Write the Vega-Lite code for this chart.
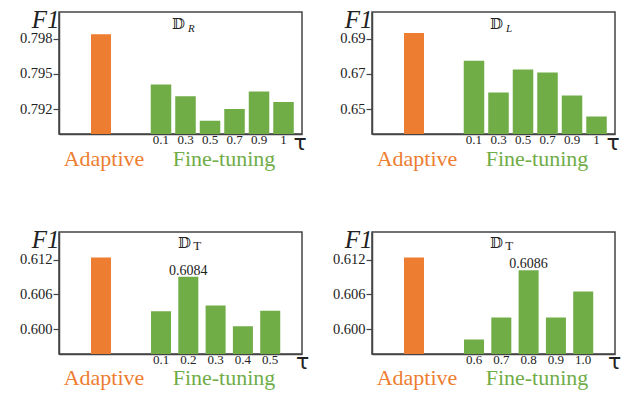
{
  "$schema": "https://vega.github.io/schema/vega-lite/v6.json",
  "padding": {"left": 18, "top": 6, "right": 5, "bottom": 2},
  "data": {"values": [
    {"panel": "R", "method": "Adaptive", "f1": 0.7984},
    {"panel": "R", "method": "Fine-tuning", "tau": "0.1", "f1": 0.7941},
    {"panel": "R", "method": "Fine-tuning", "tau": "0.3", "f1": 0.7931},
    {"panel": "R", "method": "Fine-tuning", "tau": "0.5", "f1": 0.7910},
    {"panel": "R", "method": "Fine-tuning", "tau": "0.7", "f1": 0.7920},
    {"panel": "R", "method": "Fine-tuning", "tau": "0.9", "f1": 0.7935},
    {"panel": "R", "method": "Fine-tuning", "tau": "1", "f1": 0.7926},
    {"panel": "L", "method": "Adaptive", "f1": 0.6932},
    {"panel": "L", "method": "Fine-tuning", "tau": "0.1", "f1": 0.6774},
    {"panel": "L", "method": "Fine-tuning", "tau": "0.3", "f1": 0.6594},
    {"panel": "L", "method": "Fine-tuning", "tau": "0.5", "f1": 0.6724},
    {"panel": "L", "method": "Fine-tuning", "tau": "0.7", "f1": 0.6707},
    {"panel": "L", "method": "Fine-tuning", "tau": "0.9", "f1": 0.6577},
    {"panel": "L", "method": "Fine-tuning", "tau": "1", "f1": 0.6459},
    {"panel": "T1", "method": "Adaptive", "f1": 0.6124},
    {"panel": "T1", "method": "Fine-tuning", "tau": "0.1", "f1": 0.6031},
    {"panel": "T1", "method": "Fine-tuning", "tau": "0.2", "f1": 0.6091, "note": "0.6084"},
    {"panel": "T1", "method": "Fine-tuning", "tau": "0.3", "f1": 0.6041},
    {"panel": "T1", "method": "Fine-tuning", "tau": "0.4", "f1": 0.6005},
    {"panel": "T1", "method": "Fine-tuning", "tau": "0.5", "f1": 0.6032},
    {"panel": "T2", "method": "Adaptive", "f1": 0.6124},
    {"panel": "T2", "method": "Fine-tuning", "tau": "0.6", "f1": 0.5982},
    {"panel": "T2", "method": "Fine-tuning", "tau": "0.7", "f1": 0.6020},
    {"panel": "T2", "method": "Fine-tuning", "tau": "0.8", "f1": 0.6102, "note": "0.6086"},
    {"panel": "T2", "method": "Fine-tuning", "tau": "0.9", "f1": 0.6020},
    {"panel": "T2", "method": "Fine-tuning", "tau": "1.0", "f1": 0.6065}
  ]},
  "columns": 2,
  "spacing": {"row": 98, "column": 70},
  "bounds": "flush",
  "concat": [
    {
      "width": 243, "height": 122,
      "transform": [{"filter": "datum.panel == 'R'"}],
      "title": {"text": "𝔻", "subtitle": "\u2800\u2800R", "anchor": "start", "frame": "group", "dx": 113, "offset": -26.2, "font": "DejaVu Serif", "fontSize": 15, "fontWeight": "normal", "color": "#222", "subtitleFont": "Liberation Serif", "subtitleFontStyle": "italic", "subtitleFontSize": 11, "subtitlePadding": -8.8, "subtitleColor": "#222"},
      "encoding": {"y": {"field": "f1", "type": "quantitative", "scale": {"domain": [0.78986, 0.80031], "zero": false, "nice": false}, "axis": {"values": [0.792, 0.795, 0.798], "format": ".3f", "title": "F1", "titleAngle": 0, "titleAlign": "right", "titleBaseline": "alphabetic", "titleX": 0, "titleY": 15.5, "titleFont": "Liberation Serif", "titleFontStyle": "italic", "titleFontSize": 25, "titleFontWeight": "normal", "titleColor": "#222"}}},
      "layer": [
        {
          "transform": [{"filter": "datum.method == 'Adaptive'"}],
          "mark": {"type": "bar", "color": "#ED7D31", "clip": true},
          "encoding": {"x": {"field": "method", "type": "nominal", "sort": null, "scale": {"domain": ["Adaptive", " ", "  ", "   ", "    "], "paddingInner": 0.5, "paddingOuter": 0.7875, "align": 0.508}, "axis": {"orient": "bottom", "labelAngle": 0, "labelOffset": 3, "labelColor": "#ED7D31", "labelFont": "Liberation Serif", "labelFontSize": 22, "labelBaseline": "alphabetic", "labelPadding": 31, "ticks": false, "domain": false, "title": "τ", "titleFont": "DejaVu Sans", "titleFontSize": 22, "titleFontWeight": "normal", "titleColor": "#222", "titleX": 240.5, "titleY": 15.7, "titleAlign": "center", "titleBaseline": "alphabetic"}}}
        },
        {
          "transform": [{"filter": "datum.method == 'Fine-tuning'"}],
          "encoding": {"x": {"field": "tau", "type": "ordinal", "sort": null, "scale": {"domain": [" ", "  ", "   ", "0.1", "0.3", "0.5", "0.7", "0.9", "1"], "paddingInner": 0.163, "paddingOuter": 0.54, "align": 0.689}, "axis": {"orient": "bottom", "labelAngle": 0, "labelColor": "#222", "labelFont": "Liberation Serif", "labelFontSize": 13, "labelPadding": -1, "ticks": false, "domain": true, "title": "Fine-tuning", "titleColor": "#70AD47", "titleFont": "Liberation Serif", "titleFontSize": 22, "titleFontWeight": "normal", "titleX": 164.5, "titleY": 31, "titleAlign": "center", "titleBaseline": "alphabetic"}}},
          "layer": [
            {"mark": {"type": "bar", "color": "#70AD47", "clip": true}},
            {"transform": [{"filter": "isValid(datum.note)"}], "mark": {"type": "text", "baseline": "alphabetic", "dy": -2, "font": "Liberation Serif", "fontSize": 14, "color": "#222"}, "encoding": {"text": {"field": "note"}}}
          ]
        }
      ],
      "resolve": {"scale": {"x": "independent"}, "axis": {"x": "independent"}}
    },
    {
      "width": 243, "height": 122,
      "transform": [{"filter": "datum.panel == 'L'"}],
      "title": {"text": "𝔻", "subtitle": "\u2800\u2800L", "anchor": "start", "frame": "group", "dx": 118, "offset": -26.2, "font": "DejaVu Serif", "fontSize": 15, "fontWeight": "normal", "color": "#222", "subtitleFont": "Liberation Serif", "subtitleFontStyle": "italic", "subtitleFontSize": 11, "subtitlePadding": -8.8, "subtitleColor": "#222"},
      "encoding": {"y": {"field": "f1", "type": "quantitative", "scale": {"domain": [0.63592, 0.70504], "zero": false, "nice": false}, "axis": {"values": [0.65, 0.67, 0.69], "format": ".2f", "title": "F1", "titleAngle": 0, "titleAlign": "right", "titleBaseline": "alphabetic", "titleX": 0, "titleY": 15.5, "titleFont": "Liberation Serif", "titleFontStyle": "italic", "titleFontSize": 25, "titleFontWeight": "normal", "titleColor": "#222"}}},
      "layer": [
        {
          "transform": [{"filter": "datum.method == 'Adaptive'"}],
          "mark": {"type": "bar", "color": "#ED7D31", "clip": true},
          "encoding": {"x": {"field": "method", "type": "nominal", "sort": null, "scale": {"domain": ["Adaptive", " ", "  ", "   ", "    "], "paddingInner": 0.5, "paddingOuter": 0.7875, "align": 0.508}, "axis": {"orient": "bottom", "labelAngle": 0, "labelOffset": 3, "labelColor": "#ED7D31", "labelFont": "Liberation Serif", "labelFontSize": 22, "labelBaseline": "alphabetic", "labelPadding": 31, "ticks": false, "domain": false, "title": "τ", "titleFont": "DejaVu Sans", "titleFontSize": 22, "titleFontWeight": "normal", "titleColor": "#222", "titleX": 240.5, "titleY": 15.7, "titleAlign": "center", "titleBaseline": "alphabetic"}}}
        },
        {
          "transform": [{"filter": "datum.method == 'Fine-tuning'"}],
          "encoding": {"x": {"field": "tau", "type": "ordinal", "sort": null, "scale": {"domain": [" ", "  ", "   ", "0.1", "0.3", "0.5", "0.7", "0.9", "1"], "paddingInner": 0.163, "paddingOuter": 0.54, "align": 0.689}, "axis": {"orient": "bottom", "labelAngle": 0, "labelColor": "#222", "labelFont": "Liberation Serif", "labelFontSize": 13, "labelPadding": -1, "ticks": false, "domain": true, "title": "Fine-tuning", "titleColor": "#70AD47", "titleFont": "Liberation Serif", "titleFontSize": 22, "titleFontWeight": "normal", "titleX": 164.5, "titleY": 31, "titleAlign": "center", "titleBaseline": "alphabetic"}}},
          "layer": [
            {"mark": {"type": "bar", "color": "#70AD47", "clip": true}},
            {"transform": [{"filter": "isValid(datum.note)"}], "mark": {"type": "text", "baseline": "alphabetic", "dy": -2, "font": "Liberation Serif", "fontSize": 14, "color": "#222"}, "encoding": {"text": {"field": "note"}}}
          ]
        }
      ],
      "resolve": {"scale": {"x": "independent"}, "axis": {"x": "independent"}}
    },
    {
      "width": 243, "height": 122,
      "transform": [{"filter": "datum.panel == 'T1'"}],
      "title": {"text": "𝔻", "subtitle": "\u2800\u2009\u2009T", "anchor": "start", "frame": "group", "dx": 119, "offset": -25.4, "font": "DejaVu Serif", "fontSize": 15, "fontWeight": "normal", "color": "#222", "subtitleFont": "Liberation Serif", "subtitleFontSize": 13, "subtitlePadding": -11.1, "subtitleColor": "#222"},
      "encoding": {"y": {"field": "f1", "type": "quantitative", "scale": {"domain": [0.59568, 0.61684], "zero": false, "nice": false}, "axis": {"values": [0.6, 0.606, 0.612], "format": ".3f", "title": "F1", "titleAngle": 0, "titleAlign": "right", "titleBaseline": "alphabetic", "titleX": 0, "titleY": 15.5, "titleFont": "Liberation Serif", "titleFontStyle": "italic", "titleFontSize": 25, "titleFontWeight": "normal", "titleColor": "#222"}}},
      "layer": [
        {
          "transform": [{"filter": "datum.method == 'Adaptive'"}],
          "mark": {"type": "bar", "color": "#ED7D31", "clip": true},
          "encoding": {"x": {"field": "method", "type": "nominal", "sort": null, "scale": {"domain": ["Adaptive", " ", "  ", "   ", "    "], "paddingInner": 0.5, "paddingOuter": 0.7875, "align": 0.508}, "axis": {"orient": "bottom", "labelAngle": 0, "labelOffset": 3, "labelColor": "#ED7D31", "labelFont": "Liberation Serif", "labelFontSize": 22, "labelBaseline": "alphabetic", "labelPadding": 30, "ticks": false, "domain": false, "title": "τ", "titleFont": "DejaVu Sans", "titleFontSize": 22, "titleFontWeight": "normal", "titleColor": "#222", "titleX": 243, "titleY": 14, "titleAlign": "center", "titleBaseline": "alphabetic"}}}
        },
        {
          "transform": [{"filter": "datum.method == 'Fine-tuning'"}],
          "encoding": {"x": {"field": "tau", "type": "ordinal", "sort": null, "scale": {"domain": [" ", "  ", "   ", "0.1", "0.2", "0.3", "0.4", "0.5"], "paddingInner": 0.267, "paddingOuter": 0.584, "align": 0.317}, "axis": {"orient": "bottom", "labelAngle": 0, "labelColor": "#222", "labelFont": "Liberation Serif", "labelFontSize": 13, "labelPadding": -1, "ticks": false, "domain": true, "title": "Fine-tuning", "titleColor": "#70AD47", "titleFont": "Liberation Serif", "titleFontSize": 22, "titleFontWeight": "normal", "titleX": 164.5, "titleY": 30, "titleAlign": "center", "titleBaseline": "alphabetic"}}},
          "layer": [
            {"mark": {"type": "bar", "color": "#70AD47", "clip": true}},
            {"transform": [{"filter": "isValid(datum.note)"}], "mark": {"type": "text", "baseline": "alphabetic", "dy": -2, "font": "Liberation Serif", "fontSize": 14, "color": "#222"}, "encoding": {"text": {"field": "note"}}}
          ]
        }
      ],
      "resolve": {"scale": {"x": "independent"}, "axis": {"x": "independent"}}
    },
    {
      "width": 243, "height": 122,
      "transform": [{"filter": "datum.panel == 'T2'"}],
      "title": {"text": "𝔻", "subtitle": "\u2800\u2009\u2009T", "anchor": "start", "frame": "group", "dx": 118, "offset": -25.4, "font": "DejaVu Serif", "fontSize": 15, "fontWeight": "normal", "color": "#222", "subtitleFont": "Liberation Serif", "subtitleFontSize": 13, "subtitlePadding": -11.1, "subtitleColor": "#222"},
      "encoding": {"y": {"field": "f1", "type": "quantitative", "scale": {"domain": [0.59568, 0.61684], "zero": false, "nice": false}, "axis": {"values": [0.6, 0.606, 0.612], "format": ".3f", "title": "F1", "titleAngle": 0, "titleAlign": "right", "titleBaseline": "alphabetic", "titleX": 0, "titleY": 15.5, "titleFont": "Liberation Serif", "titleFontStyle": "italic", "titleFontSize": 25, "titleFontWeight": "normal", "titleColor": "#222"}}},
      "layer": [
        {
          "transform": [{"filter": "datum.method == 'Adaptive'"}],
          "mark": {"type": "bar", "color": "#ED7D31", "clip": true},
          "encoding": {"x": {"field": "method", "type": "nominal", "sort": null, "scale": {"domain": ["Adaptive", " ", "  ", "   ", "    "], "paddingInner": 0.5, "paddingOuter": 0.7875, "align": 0.508}, "axis": {"orient": "bottom", "labelAngle": 0, "labelOffset": 3, "labelColor": "#ED7D31", "labelFont": "Liberation Serif", "labelFontSize": 22, "labelBaseline": "alphabetic", "labelPadding": 30, "ticks": false, "domain": false, "title": "τ", "titleFont": "DejaVu Sans", "titleFontSize": 22, "titleFontWeight": "normal", "titleColor": "#222", "titleX": 242, "titleY": 14, "titleAlign": "center", "titleBaseline": "alphabetic"}}}
        },
        {
          "transform": [{"filter": "datum.method == 'Fine-tuning'"}],
          "encoding": {"x": {"field": "tau", "type": "ordinal", "sort": null, "scale": {"domain": [" ", "  ", "   ", "0.6", "0.7", "0.8", "0.9", "1.0"], "paddingInner": 0.267, "paddingOuter": 0.584, "align": 0.317}, "axis": {"orient": "bottom", "labelAngle": 0, "labelColor": "#222", "labelFont": "Liberation Serif", "labelFontSize": 13, "labelPadding": -1, "ticks": false, "domain": true, "title": "Fine-tuning", "titleColor": "#70AD47", "titleFont": "Liberation Serif", "titleFontSize": 22, "titleFontWeight": "normal", "titleX": 164.5, "titleY": 30, "titleAlign": "center", "titleBaseline": "alphabetic"}}},
          "layer": [
            {"mark": {"type": "bar", "color": "#70AD47", "clip": true}},
            {"transform": [{"filter": "isValid(datum.note)"}], "mark": {"type": "text", "baseline": "alphabetic", "dy": -2, "font": "Liberation Serif", "fontSize": 14, "color": "#222"}, "encoding": {"text": {"field": "note"}}}
          ]
        }
      ],
      "resolve": {"scale": {"x": "independent"}, "axis": {"x": "independent"}}
    }
  ],
  "config": {
    "font": "Liberation Serif",
    "view": {"stroke": "#444", "strokeWidth": 1.5},
    "axis": {"grid": false, "domainColor": "#444", "domainWidth": 1.5, "tickColor": "#444", "tickSize": 6, "tickWidth": 1.2, "labelPadding": 1},
    "axisY": {"labelFont": "Liberation Serif", "labelFontSize": 14.5, "labelColor": "#222", "labelPadding": 1}
  }
}
